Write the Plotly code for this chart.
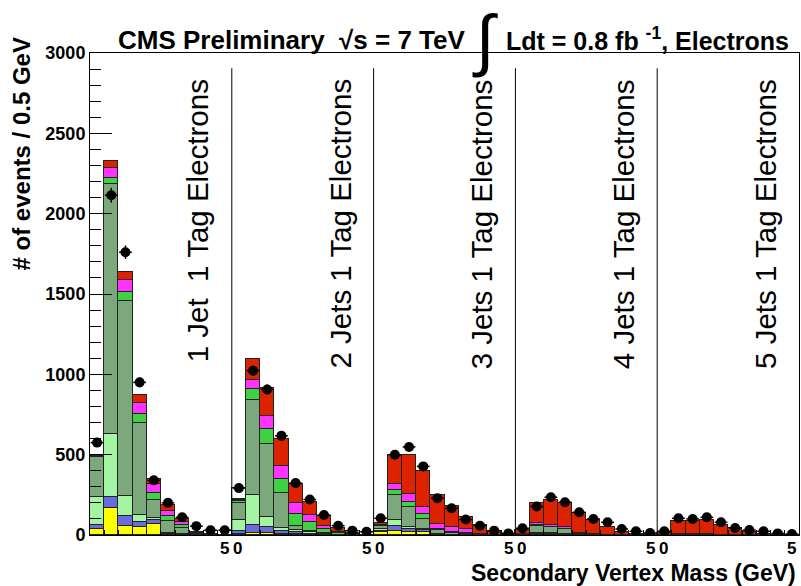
import numpy as np
import plotly.graph_objects as go

# ---- data: 5 panels (1..5 jets) x 10 bins of 0.5 GeV secondary vertex mass ----
panel_labels = ["1 Jet  1 Tag Electrons", "2 Jets 1 Tag Electrons", "3 Jets 1 Tag Electrons",
                "4 Jets 1 Tag Electrons", "5 Jets 1 Tag Electrons"]

yellow = [37, 167, 58, 52, 69, 5, 0, 0, 0, 0,
          8, 10, 10, 8, 5, 2, 0, 0, 0, 0,
          17, 27, 17, 17, 3, 0, 0, 0, 0, 0,
          0, 2, 2, 1, 0, 0, 0, 0, 0, 0,
          0, 0, 0, 0, 0, 0, 0, 0, 0, 0]
blue = [25, 69, 63, 31, 27, 5, 2, 0, 0, 0,
        15, 52, 42, 19, 15, 5, 2, 0, 0, 0,
        5, 27, 20, 15, 3, 0, 0, 0, 0, 0,
        0, 2, 2, 1, 0, 0, 0, 0, 0, 0,
        0, 0, 0, 0, 0, 0, 0, 0, 0, 0]
lightgreen = [175, 395, 119, 42, 10, 5, 3, 0, 0, 0,
              73, 184, 58, 17, 10, 10, 3, 0, 0, 0,
              15, 42, 10, 8, 3, 2, 0, 0, 0, 0,
              2, 10, 8, 4, 1, 0, 0, 0, 0, 0,
              0, 0, 0, 0, 0, 0, 0, 0, 0, 0]
darkgreen = [250, 1552, 1214, 573, 113, 75, 37, 5, 2, 0,
             104, 594, 459, 218, 28, 10, 5, 3, 0, 0,
             21, 154, 126, 60, 20, 8, 5, 2, 0, 0,
             3, 44, 36, 30, 3, 2, 0, 0, 0, 0,
             0, 2, 2, 2, 1, 0, 0, 0, 0, 0]
green = [4, 42, 56, 54, 43, 31, 20, 4, 2, 0,
         10, 68, 93, 88, 73, 52, 27, 8, 3, 0,
         3, 31, 31, 31, 8, 10, 10, 0, 0, 0,
         1, 5, 4, 4, 3, 2, 0, 0, 0, 0,
         0, 1, 1, 1, 1, 0, 0, 0, 0, 0]
magenta = [4, 58, 80, 71, 57, 31, 21, 4, 2, 1,
           5, 57, 78, 79, 67, 46, 21, 8, 3, 0,
           3, 38, 52, 42, 32, 28, 22, 5, 0, 0,
           2, 10, 12, 12, 4, 3, 2, 0, 0, 0,
           0, 2, 2, 2, 1, 1, 0, 0, 0, 0]
red = [5, 42, 47, 48, 31, 35, 17, 4, 2, 1,
       10, 129, 177, 167, 121, 79, 63, 25, 6, 3,
       9, 177, 240, 227, 177, 131, 78, 55, 27, 5,
       22, 127, 155, 146, 124, 87, 50, 21, 5, 0,
       10, 85, 85, 89, 59, 41, 21, 5, 0, 0]
white = [0, 0, 0, 0, 0, 0, 0, 0, 0, 0,
         67, 0, 0, 0, 0, 0, 0, 0, 0, 0,
         0, 0, 0, 0, 0, 0, 0, 0, 0, 0,
         0, 0, 0, 0, 0, 0, 0, 0, 0, 0,
         0, 0, 0, 0, 0, 0, 0, 0, 0, 0]
data = [575, 2115, 1760, 950, 340, 200, 110, 55, 30, 30,
        292, 1023, 906, 617, 323, 221, 125, 58, 27, 20,
        104, 500, 548, 427, 229, 167, 96, 58, 27, 10,
        42, 177, 235, 204, 142, 100, 79, 37, 23, 12,
        23, 104, 100, 110, 79, 44, 31, 23, 10, 6]

components = [("yellow", yellow, "#FFFF00"),
              ("blue", blue, "#6B6BE0"),
              ("lightgreen", lightgreen, "#A3F5A3"),
              ("darkgreen", darkgreen, "#7BA97B"),
              ("green", green, "#3DD143"),
              ("magenta", magenta, "#FF33FF"),
              ("red", red, "#DD2200"),
              ("white", white, "#FFFFFF")]

nbins = len(data)
xc = np.arange(nbins) + 0.5

fig = go.Figure()
for name, vals, col in components:
    fig.add_trace(go.Bar(x=xc, y=vals, width=1.0, name=name,
                         marker=dict(color=col, line=dict(color="#222222", width=1)),
                         showlegend=False))

fig.add_trace(go.Scatter(
    x=xc, y=data, mode="markers", showlegend=False,
    marker=dict(color="black", size=10),
    error_y=dict(type="data", array=np.sqrt(data), color="black", thickness=1.5, width=0),
    error_x=dict(type="constant", value=0.45, color="black", thickness=1.5, width=0)))

W, H = 801, 586
L, R, T, B = 90, 2, 53, 51
pw, ph = W - L - R, H - T - B

def px(xpix):
    return (xpix - L) / pw

def py(ypix):
    return (H - B - ypix) / ph

shapes = []
for k in range(1, 5):
    shapes.append(dict(type="line", xref="x", yref="y", x0=10 * k, x1=10 * k,
                       y0=0, y1=2905, line=dict(color="black", width=1)))

ann = []
# panel labels
for k, lab in enumerate(panel_labels):
    ann.append(dict(x=10 * (k + 1) - 2.4, xref="x", y=py(77), yref="paper",
                    text=lab, textangle=-90, showarrow=False,
                    xanchor="center", yanchor="top",
                    font=dict(family="Liberation Sans", size=29.5, color="black")))
# x labels
for k in range(1, 6):
    ann.append(dict(x=10 * k - 0.5, xref="x", y=py(548), yref="paper", text="<b>5</b>",
                    showarrow=False, xanchor="center", yanchor="middle",
                    font=dict(family="Liberation Sans", size=17, color="black")))
for k in range(1, 5):
    ann.append(dict(x=10 * k + 0.42, xref="x", y=py(548), yref="paper", text="<b>0</b>",
                    showarrow=False, xanchor="center", yanchor="middle",
                    font=dict(family="Liberation Sans", size=17, color="black")))
# title
ann.append(dict(x=px(116), y=py(57), xref="paper", yref="paper",
                text="<b>CMS Preliminary  √s = 7 TeV</b>", showarrow=False,
                xanchor="left", yanchor="bottom",
                font=dict(family="Liberation Sans", size=26, color="black")))
ann.append(dict(x=px(485), y=py(39), xref="paper", yref="paper",
                text="∫", showarrow=False, xanchor="center", yanchor="middle",
                font=dict(family="Liberation Sans", size=68, color="black")))
ann.append(dict(x=px(791), y=py(57), xref="paper", yref="paper",
                text="<b>Ldt = 0.8 fb <sup>-1</sup>, Electrons</b>", showarrow=False,
                xanchor="right", yanchor="bottom",
                font=dict(family="Liberation Sans", size=25, color="black")))
# axis titles
ann.append(dict(x=px(21), y=py(36), xref="paper", yref="paper",
                text="<b># of events / 0.5 GeV</b>", textangle=-90, showarrow=False,
                xanchor="center", yanchor="top",
                font=dict(family="Liberation Sans", size=24, color="black")))
ann.append(dict(x=px(798), y=py(573), xref="paper", yref="paper",
                text="<b>Secondary Vertex Mass (GeV)</b>", showarrow=False,
                xanchor="right", yanchor="middle",
                font=dict(family="Liberation Sans", size=23, color="black")))

fig.update_layout(
    width=W, height=H, barmode="stack", bargap=0,
    margin=dict(l=L, r=R, t=T, b=B, pad=0),
    paper_bgcolor="white", plot_bgcolor="white",
    shapes=shapes, annotations=ann,
    xaxis=dict(range=[0, 50], tickvals=list(range(51)), ticks="inside", ticklen=5,
               tickcolor="black", showticklabels=False, showgrid=False, zeroline=False,
               showline=True, linecolor="black", linewidth=1, mirror=True),
    yaxis=dict(range=[0, 3000], dtick=500, tick0=0, ticks="inside", ticklen=22,
               tickcolor="black", showgrid=False, zeroline=False,
               showline=True, linecolor="black", linewidth=1, mirror=True,
               tickfont=dict(family="Liberation Sans", size=18, color="black", weight="bold"),
               minor=dict(dtick=100, ticks="inside", ticklen=11, tickcolor="black", showgrid=False)),
)

fig.write_html("out.html", config={"displayModeBar": False},
               post_script="document.body.style.margin='0';document.body.style.overflow='hidden';")
